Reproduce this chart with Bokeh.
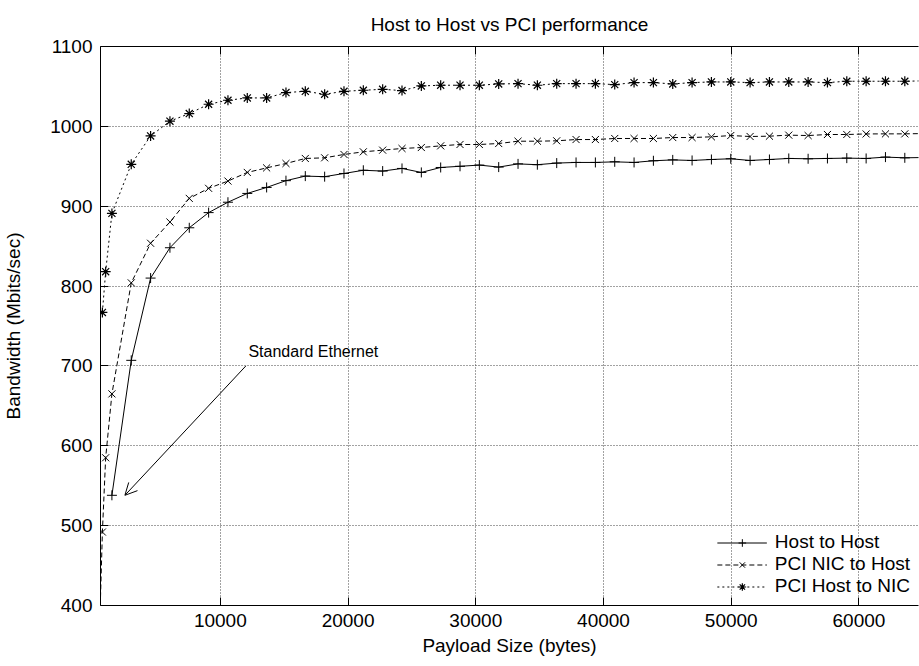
from bokeh.plotting import figure
from bokeh.models import (Range1d, LinearAxis, FixedTicker, Legend, LegendItem,
                          Arrow, OpenHead, Label, CustomJSTickFormatter)
from bokeh.embed import file_html
from bokeh.resources import INLINE

# ---- data -------------------------------------------------------------
payload = [1514, 3028, 4542, 6056, 7570, 9084, 10598, 12112, 13626, 15140,
           16654, 18168, 19682, 21196, 22710, 24224, 25738, 27252, 28766, 30280,
           31794, 33308, 34822, 36336, 37850, 39364, 40878, 42392, 43906, 45420,
           46934, 48448, 49962, 51476, 52990, 54504, 56018, 57532, 59046, 60560,
           62074, 63588, 65102]
nic_small_payload = [512, 768, 1024]
h2n_small_payload = [768, 1024]

host_to_host = [538, 707, 810, 848, 873, 892, 905, 916, 923.5, 932,
                937.7, 937, 941, 945, 944, 947.3, 942.3, 948.5, 950, 951.5,
                949, 953, 952, 954, 954.8, 954.8, 955.6, 954.8, 956.9, 958,
                957.3, 958.5, 959.4, 957.3, 958.5, 959.8, 959.4, 959.8, 960.2, 959.8,
                961.5, 960.6, 961]
pci_nic_to_host = [350, 492, 585,
                   665, 804, 853.6, 880.2, 909.8, 922.4, 931.5, 942.3, 948, 953.5,
                   959.8, 960.6, 964.8, 968.1, 970.2, 972.3, 973.5, 975.6, 977.3, 977.3,
                   978.5, 981.4, 981.4, 981.9, 983.5, 983.5, 984.8, 984.8, 984.8, 986,
                   986, 986.9, 988.5, 987.3, 987.7, 989, 988.5, 989.8, 989.8, 990.5,
                   990.6, 990.6, 991]
pci_host_to_nic = [767, 818,
                   891, 952.5, 988, 1006.5, 1016, 1027.7, 1032.7, 1035.6, 1035.6, 1042.3,
                   1043.9, 1040.2, 1043.9, 1045.2, 1046.4, 1044.8, 1050.6, 1051.5, 1051.5, 1051.5,
                   1053.1, 1053.5, 1051.5, 1053.5, 1053.5, 1053.5, 1052.3, 1054.8, 1054.8, 1053.1,
                   1054.8, 1055.6, 1055.6, 1054.8, 1055.6, 1055.6, 1055.6, 1054.8, 1056.5, 1056.5,
                   1056.5, 1056.5, 1057]

x_ticks = [10000, 20000, 30000, 40000, 50000, 60000]
y_ticks = [400, 500, 600, 700, 800, 900, 1000, 1100]

arrow_label = "Standard Ethernet"
arrow_from = (12000, 700)
arrow_to = (2530, 538)
label_at = (12200, 718)

FONT = "Liberation Sans"
FS = "19px"

# ---- figure -----------------------------------------------------------
p = figure(width=919, height=666, output_backend="svg", toolbar_location=None,
           x_range=Range1d(620, 64660), y_range=Range1d(400, 1100),
           min_border_left=97, min_border_right=1, min_border_top=45,
           min_border_bottom=61, background_fill_color="white",
           border_fill_color="white")
p.outline_line_color = None

p.title.text = "Host to Host vs PCI performance"
p.title.align = "center"
p.title.text_font = FONT
p.title.text_font_size = FS
p.title.text_font_style = "normal"
p.title.text_color = "black"
p.title.offset = 14
p.title.standoff = 23

for ax in (p.xaxis[0], p.yaxis[0]):
    ax.major_tick_in = 8
    ax.major_tick_out = 0
    ax.minor_tick_line_color = None
    ax.axis_line_color = "black"
    ax.major_tick_line_color = "black"
    ax.major_label_text_font = FONT
    ax.major_label_text_font_size = FS
    ax.major_label_text_color = "black"
    ax.axis_label_text_font = FONT
    ax.axis_label_text_font_size = FS
    ax.axis_label_text_font_style = "normal"
    ax.axis_label_text_color = "black"

p.xaxis[0].ticker = FixedTicker(ticks=x_ticks)
p.yaxis[0].ticker = FixedTicker(ticks=y_ticks)
p.xaxis[0].axis_label = "Payload Size (bytes)"
p.yaxis[0].axis_label = "Bandwidth (Mbits/sec)"
p.xaxis[0].major_label_standoff = 8
p.xaxis[0].axis_label_standoff = 5
p.yaxis[0].major_label_standoff = 8
p.yaxis[0].axis_label_standoff = 23

top = LinearAxis(ticker=FixedTicker(ticks=x_ticks), major_tick_in=8, major_tick_out=0,
                 minor_tick_line_color=None,
                 formatter=CustomJSTickFormatter(code="return ''"),
                 major_label_text_font_size="1px",
                 axis_line_color="black", major_label_standoff=0)
p.add_layout(top, "above")

for g, t in ((p.xgrid[0], x_ticks), (p.ygrid[0], y_ticks)):
    g.ticker = FixedTicker(ticks=t)
    g.grid_line_color = "#444444"
    g.grid_line_dash = "1 2"
    g.grid_line_width = 1

# ---- series -----------------------------------------------------------
l1 = p.line(payload, host_to_host, line_color="black", line_width=1)
s1 = p.scatter(payload, host_to_host, marker="cross", size=10, line_color="black",
               line_width=1)
x2 = nic_small_payload + payload
l2 = p.line(x2, pci_nic_to_host, line_color="black", line_width=1, line_dash="5 3")
s2 = p.scatter(x2, pci_nic_to_host, marker="x", size=10, line_color="black", line_width=1)
x3 = h2n_small_payload + payload
l3 = p.line(x3, pci_host_to_nic, line_color="black", line_width=1, line_dash="2 3")
s3 = p.scatter(x3, pci_host_to_nic, marker="asterisk", size=10, line_color="black",
               line_width=1.2)

legend = Legend(items=[LegendItem(label="Host to Host", renderers=[l1, s1]),
                       LegendItem(label="PCI NIC to Host", renderers=[l2, s2]),
                       LegendItem(label="PCI Host to NIC", renderers=[l3, s3])],
                location="bottom_right", background_fill_alpha=0,
                border_line_color=None, glyph_width=50, glyph_height=19,
                label_height=19, spacing=0, padding=4, margin=8,
                label_text_font=FONT, label_text_font_size=FS,
                label_text_color="black", label_standoff=8)
p.add_layout(legend)

p.add_layout(Arrow(end=OpenHead(size=12, line_width=1, line_color="black"),
                   x_start=arrow_from[0], y_start=arrow_from[1],
                   x_end=arrow_to[0], y_end=arrow_to[1], line_color="black",
                   line_width=1))
p.add_layout(Label(x=label_at[0], y=label_at[1], text=arrow_label,
                   text_font=FONT, text_font_size="16px", text_baseline="middle",
                   text_color="black"))

open("out.html", "w").write(file_html(p, INLINE))
